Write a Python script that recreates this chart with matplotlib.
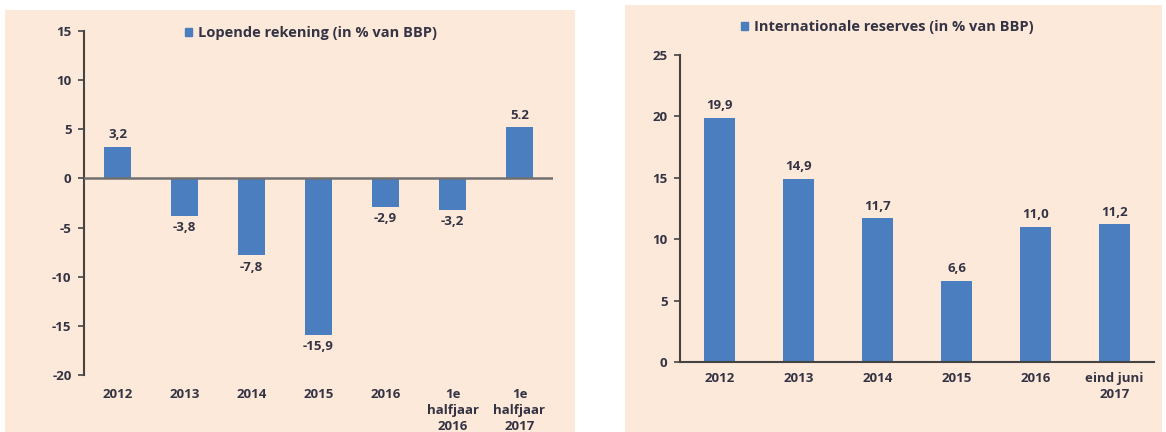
import matplotlib
matplotlib.use("Agg")
import matplotlib.pyplot as plt
from matplotlib.patches import Rectangle, Patch

# ---- data ----
left_categories = ["2012", "2013", "2014", "2015", "2016", "1e\nhalfjaar\n2016", "1e\nhalfjaar\n2017"]
left_values = [3.2, -3.8, -7.8, -15.9, -2.9, -3.2, 5.2]
left_labels = ["3,2", "-3,8", "-7,8", "-15,9", "-2,9", "-3,2", "5.2"]
left_title = "Lopende rekening (in % van BBP)"
left_yticks = [15, 10, 5, 0, -5, -10, -15, -20]

right_categories = ["2012", "2013", "2014", "2015", "2016", "eind juni\n2017"]
right_values = [19.9, 14.9, 11.7, 6.6, 11.0, 11.2]
right_labels = ["19,9", "14,9", "11,7", "6,6", "11,0", "11,2"]
right_title = "Internationale reserves (in % van BBP)"
right_yticks = [0, 5, 10, 15, 20, 25]

BG = "#FDE9D9"
BAR = "#4A7EBE"
TXT = "#333344"
AX = "#444444"
FS_TICK = 9.5
FS_LAB = 9.5
FS_LEG = 10.5

plt.rcParams['font.family'] = ['Open Sans', 'DejaVu Sans']
plt.rcParams['font.weight'] = 'bold'

fig = plt.figure(figsize=(11.66, 4.32), dpi=100)
fig.patch.set_facecolor("white")

# panel backgrounds
W, H = 1166, 432
fig.patches.append(Rectangle((5 / W, 0), 570 / W, 1 - 10 / H, transform=fig.transFigure,
                             facecolor=BG, edgecolor="none", zorder=-10))
fig.patches.append(Rectangle((625 / W, 0), 537 / W, 1 - 5 / H, transform=fig.transFigure,
                             facecolor=BG, edgecolor="none", zorder=-10))

# ---- left chart ----
axL = fig.add_axes([84 / W, 1 - 375 / H, (553 - 84) / W, (375 - 31) / H])
axL.set_facecolor("none")
xl = list(range(len(left_categories)))
axL.bar(xl, left_values, width=0.4, color=BAR, zorder=2)
axL.set_xlim(-0.5, len(left_categories) - 0.5)
axL.set_ylim(-20, 15)
axL.set_yticks(left_yticks)
axL.set_yticklabels([str(v) for v in left_yticks], fontsize=FS_TICK, color=TXT, fontweight='bold')
axL.set_xticks(xl)
axL.set_xticklabels(left_categories, fontsize=FS_TICK, color=TXT, fontweight='bold', linespacing=1.35, va='top')
axL.tick_params(axis='x', length=0, pad=9)
axL.tick_params(axis='y', length=4, width=1.2, color=AX, pad=5)
for s in ["top", "right", "bottom"]:
    axL.spines[s].set_visible(False)
axL.spines["left"].set_color(AX)
axL.spines["left"].set_linewidth(1.5)
axL.axhline(0, color="#707070", linewidth=1.8, zorder=3)
for x, v, lab in zip(xl, left_values, left_labels):
    if v >= 0:
        axL.annotate(lab, (x, v), xytext=(0, 4), textcoords="offset points",
                     ha="center", va="bottom", fontsize=FS_LAB, color=TXT, fontweight='bold')
    else:
        axL.annotate(lab, (x, v), xytext=(0, -4), textcoords="offset points",
                     ha="center", va="top", fontsize=FS_LAB, color=TXT, fontweight='bold')
legL = fig.legend(handles=[Patch(color=BAR, label=left_title)], loc="center",
                  bbox_to_anchor=(311 / W, 1 - 33 / H), frameon=False, fontsize=FS_LEG,
                  handlelength=0.5, handleheight=0.5, handletextpad=0.4,
                  borderpad=0, borderaxespad=0)
for t in legL.get_texts():
    t.set_color(TXT)
    t.set_fontweight('bold')

# ---- right chart ----
axR = fig.add_axes([680 / W, 1 - 362 / H, (1154 - 680) / W, (362 - 55) / H])
axR.set_facecolor("none")
xr = list(range(len(right_categories)))
axR.bar(xr, right_values, width=0.4, color=BAR, zorder=2)
axR.set_xlim(-0.5, len(right_categories) - 0.5)
axR.set_ylim(0, 25)
axR.set_yticks(right_yticks)
axR.set_yticklabels([str(v) for v in right_yticks], fontsize=FS_TICK, color=TXT, fontweight='bold')
axR.set_xticks(xr)
axR.set_xticklabels(right_categories, fontsize=FS_TICK, color=TXT, fontweight='bold', linespacing=1.35, va='top')
axR.tick_params(axis='x', length=0, pad=7)
axR.tick_params(axis='y', length=4, width=1.2, color=AX, pad=5)
for s in ["top", "right"]:
    axR.spines[s].set_visible(False)
axR.spines["left"].set_color(AX)
axR.spines["left"].set_linewidth(1.5)
axR.spines["bottom"].set_color(AX)
axR.spines["bottom"].set_linewidth(1.5)
for x, v, lab in zip(xr, right_values, right_labels):
    axR.annotate(lab, (x, v), xytext=(0, 4), textcoords="offset points",
                 ha="center", va="bottom", fontsize=FS_LAB, color=TXT, fontweight='bold')
legR = fig.legend(handles=[Patch(color=BAR, label=right_title)], loc="center",
                  bbox_to_anchor=(887 / W, 1 - 27 / H), frameon=False, fontsize=FS_LEG,
                  handlelength=0.5, handleheight=0.5, handletextpad=0.4,
                  borderpad=0, borderaxespad=0)
for t in legR.get_texts():
    t.set_color(TXT)
    t.set_fontweight('bold')

fig.savefig("out.png", dpi=100, facecolor=fig.get_facecolor())
